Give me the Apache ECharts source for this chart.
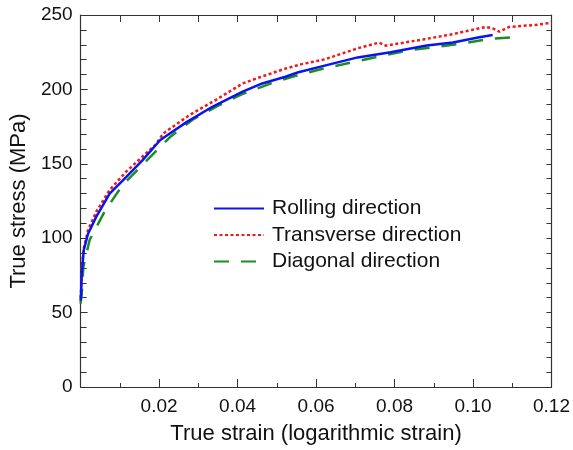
<!DOCTYPE html>
<html>
<head>
<meta charset="utf-8">
<script src="https://cdn.jsdelivr.net/npm/echarts@6/dist/echarts.min.js"></script>
<style>
html,body{margin:0;padding:0;background:#fff;}
#chart{width:573px;height:450px;}
</style>
</head>
<body>
<div id="chart"></div>
<script>
// ---- data ----
const seriesNames = ['Rolling direction', 'Transverse direction', 'Diagonal direction'];

const rollingStrain = [0, 0.0001, 0.0003, 0.0008, 0.0019, 0.004, 0.0074, 0.0116, 0.0158, 0.0203, 0.027, 0.0337, 0.0413, 0.0463, 0.0522, 0.0555, 0.0622, 0.0706, 0.079, 0.0882, 0.0949, 0.1016, 0.105];
const rollingStress = [58, 61, 76, 92, 103, 114.5, 130, 141, 152.5, 166, 178, 188.5, 198.5, 204, 208.5, 211.5, 216, 221.5, 225, 229.5, 231.5, 235, 236.6];

const transverseStrain = [0, 0.0001, 0.0003, 0.0008, 0.0019, 0.004, 0.0074, 0.0116, 0.019, 0.0211, 0.0278, 0.0345, 0.0413, 0.0455, 0.0522, 0.0564, 0.0622, 0.0706, 0.076, 0.0777, 0.0874, 0.0949, 0.1033, 0.105, 0.1067, 0.1092, 0.1159, 0.12];
const transverseStress = [60, 64, 80, 93, 105.5, 117.8, 132.4, 144.7, 162.6, 170.5, 182.8, 193, 204, 208, 214, 217, 220.2, 227.6, 231.4, 229.4, 233.6, 237.2, 242, 241, 238.8, 242, 243.3, 244.8];

const diagonalStrain = [0, 0.0003, 0.0007, 0.0023, 0.0061, 0.0107, 0.017, 0.0228, 0.0287, 0.0354, 0.0413, 0.0497, 0.0555, 0.0622, 0.0698, 0.0765, 0.084, 0.0899, 0.0974, 0.1042, 0.11];
const diagonalStress = [56, 63, 80.8, 98.8, 117.8, 135.8, 152.6, 168, 180, 189.5, 197, 205.2, 209.7, 214.2, 218.6, 222.4, 226.5, 228.3, 230.9, 233.9, 235];

const xTickValues = [0.02, 0.04, 0.06, 0.08, 0.10, 0.12];
const yTickValues = [0, 50, 100, 150, 200, 250];

const xTitle = 'True strain (logarithmic strain)';
const yTitle = 'True stress (MPa)';

function pairs(xs, ys) { return xs.map((x, i) => [x, ys[i]]); }

const FONT = '"Liberation Sans", Arial, sans-serif';
const AX = '#333';
const TXT = '#111';

const chart = echarts.init(document.getElementById('chart'), null, {renderer: 'canvas'});
chart.setOption({
  animation: false,
  backgroundColor: '#fff',
  grid: {left: 76, right: 20, top: 15, bottom: 63, containLabel: false},
  legend: {
    orient: 'vertical',
    left: 208,
    top: 193,
    padding: 5,
    itemWidth: 50,
    itemHeight: 14,
    itemGap: 5.5,
    itemStyle: {opacity: 0},
    textStyle: {fontFamily: FONT, fontSize: 21, lineHeight: 21, color: TXT, padding: [0, 0, 0, 3]},
    data: seriesNames
  },
  xAxis: [{
    type: 'value', min: 0, max: 0.12, interval: 0.02,
    name: xTitle, nameLocation: 'middle', nameGap: 36,
    nameTextStyle: {fontFamily: FONT, fontSize: 22, color: TXT},
    axisLine: {show: true, onZero: false, lineStyle: {color: AX, width: 1.2}},
    axisTick: {show: true, inside: true, length: 8, lineStyle: {color: AX}},
    minorTick: {show: true, splitNumber: 2, length: 4, lineStyle: {color: AX}},
    splitLine: {show: false},
    axisLabel: {
      fontFamily: FONT, fontSize: 19, color: TXT, margin: 10,
      formatter: v => (xTickValues.some(t => Math.abs(t - v) < 1e-9) ? v.toFixed(2) : '')
    }
  }, {
    type: 'value', min: 0, max: 0.12, interval: 0.01, position: 'top',
    axisLine: {show: true, onZero: false, lineStyle: {color: AX, width: 1.2}},
    axisTick: {show: true, inside: true, length: 7, lineStyle: {color: AX}},
    axisLabel: {show: false}, splitLine: {show: false}
  }],
  yAxis: [{
    type: 'value', min: 0, max: 250, interval: 50,
    name: yTitle, nameLocation: 'middle', nameGap: 37,
    nameTextStyle: {fontFamily: FONT, fontSize: 22, color: TXT},
    axisLine: {show: true, onZero: false, lineStyle: {color: AX, width: 1.2}},
    axisTick: {show: true, inside: true, length: 7, lineStyle: {color: AX}},
    minorTick: {show: true, splitNumber: 5, length: 6, lineStyle: {color: AX}},
    splitLine: {show: false},
    axisLabel: {
      fontFamily: FONT, fontSize: 19, color: TXT, margin: 8,
      formatter: v => (yTickValues.indexOf(v) >= 0 ? String(v) : '')
    }
  }, {
    type: 'value', min: 0, max: 250, interval: 10, position: 'right',
    axisLine: {show: true, onZero: false, lineStyle: {color: AX, width: 1.2}},
    axisTick: {show: true, inside: true, length: 5, lineStyle: {color: AX}},
    axisLabel: {show: false}, splitLine: {show: false}
  }],
  series: [{
    name: seriesNames[0], type: 'line', symbol: 'none', smooth: false,
    data: pairs(rollingStrain, rollingStress),
    itemStyle: {color: '#0a14f0'},
    lineStyle: {color: '#0a14f0', width: 2.5, type: 'solid'},
    z: 3
  }, {
    name: seriesNames[1], type: 'line', symbol: 'none', smooth: false,
    data: pairs(transverseStrain, transverseStress),
    itemStyle: {color: '#f01818'},
    lineStyle: {color: '#f01818', width: 2.5, type: [3, 2.5]},
    z: 2
  }, {
    name: seriesNames[2], type: 'line', symbol: 'none', smooth: false,
    data: pairs(diagonalStrain, diagonalStress),
    itemStyle: {color: '#1e8c1e'},
    lineStyle: {color: '#1e8c1e', width: 2.5, type: [15, 12]},
    z: 1
  }]
});
</script>
</body>
</html>
